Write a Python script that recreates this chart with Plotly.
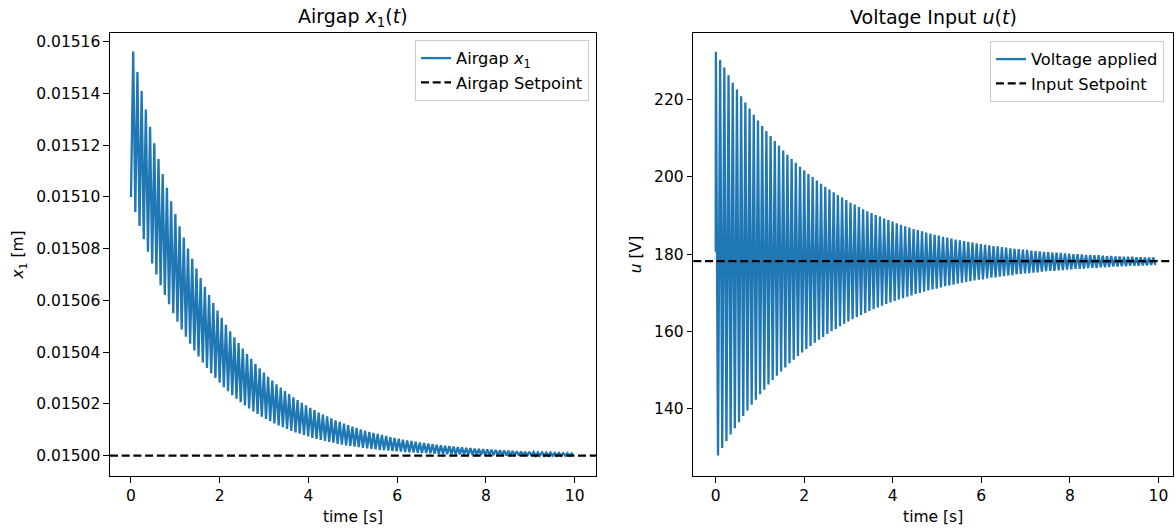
import numpy as np
import plotly.graph_objects as go

# ---------------- data ----------------
period = 0.095            # oscillation period [s]
x1_start = 0.0151000      # airgap at t = 0 [m]
x1_setpoint = 0.0150000   # [m]
u_start = 180.6           # voltage at t = 0 [V]
u_setpoint = 178.2        # [V]

# airgap: successive local maxima / minima [m]
x1_peaks = [
    0.0151562, 0.0151483, 0.0151409, 0.0151338, 0.0151271, 0.0151207, 0.0151147, 0.0151089, 0.0151035, 0.0150983,
    0.0150934, 0.0150887, 0.0150843, 0.0150801, 0.0150761, 0.0150723, 0.0150687, 0.0150653, 0.0150621, 0.0150590,
    0.0150561, 0.0150533, 0.0150506, 0.0150481, 0.0150458, 0.0150435, 0.0150414, 0.0150393, 0.0150374, 0.0150355,
    0.0150338, 0.0150321, 0.0150305, 0.0150290, 0.0150276, 0.0150263, 0.0150250, 0.0150238, 0.0150226, 0.0150215,
    0.0150204, 0.0150195, 0.0150185, 0.0150176, 0.0150167, 0.0150159, 0.0150152, 0.0150144, 0.0150137, 0.0150131,
    0.0150124, 0.0150118, 0.0150112, 0.0150107, 0.0150102, 0.0150097, 0.0150092, 0.0150088, 0.0150084, 0.0150080,
    0.0150076, 0.0150072, 0.0150069, 0.0150066, 0.0150062, 0.0150059, 0.0150057, 0.0150054, 0.0150051, 0.0150049,
    0.0150047, 0.0150044, 0.0150042, 0.0150040, 0.0150038, 0.0150037, 0.0150035, 0.0150033, 0.0150032, 0.0150030,
    0.0150029, 0.0150027, 0.0150026, 0.0150025, 0.0150024, 0.0150023, 0.0150022, 0.0150021, 0.0150020, 0.0150019,
    0.0150018, 0.0150017, 0.0150016, 0.0150015, 0.0150015, 0.0150014, 0.0150013, 0.0150013, 0.0150012, 0.0150012,
    0.0150011, 0.0150011, 0.0150010, 0.0150010, 0.0150009,
]
x1_troughs = [
    0.0150942, 0.0150888, 0.0150837, 0.0150788, 0.0150743, 0.0150700, 0.0150659, 0.0150621, 0.0150585, 0.0150551,
    0.0150518, 0.0150488, 0.0150460, 0.0150433, 0.0150407, 0.0150383, 0.0150360, 0.0150339, 0.0150319, 0.0150300,
    0.0150282, 0.0150265, 0.0150249, 0.0150234, 0.0150220, 0.0150207, 0.0150194, 0.0150183, 0.0150171, 0.0150161,
    0.0150151, 0.0150142, 0.0150133, 0.0150125, 0.0150117, 0.0150110, 0.0150103, 0.0150096, 0.0150090, 0.0150085,
    0.0150079, 0.0150074, 0.0150069, 0.0150065, 0.0150061, 0.0150057, 0.0150053, 0.0150050, 0.0150046, 0.0150043,
    0.0150040, 0.0150038, 0.0150035, 0.0150033, 0.0150030, 0.0150028, 0.0150026, 0.0150025, 0.0150023, 0.0150021,
    0.0150020, 0.0150018, 0.0150017, 0.0150016, 0.0150014, 0.0150013, 0.0150012, 0.0150011, 0.0150010, 0.0150010,
    0.0150009, 0.0150008, 0.0150007, 0.0150007, 0.0150006, 0.0150006, 0.0150005, 0.0150005, 0.0150004, 0.0150004,
    0.0150003, 0.0150003, 0.0150003, 0.0150002, 0.0150002, 0.0150002, 0.0150002, 0.0150001, 0.0150001, 0.0150001,
    0.0150001, 0.0150001, 0.0150001, 0.0150000, 0.0150000, 0.0150000, 0.0150000, 0.0150000, 0.0150000, 0.0150000,
    0.0150000, 0.0150000, 0.0150000, 0.0150000, 0.0150000,
]

# voltage: successive local maxima / minima [V]
u_peaks = [
    232.3, 230.2, 228.2, 226.2, 224.3, 222.5, 220.8, 219.2, 217.6, 216.0,
    214.5, 213.1, 211.8, 210.5, 209.2, 208.0, 206.8, 205.7, 204.6, 203.6,
    202.6, 201.7, 200.7, 199.9, 199.0, 198.2, 197.4, 196.7, 196.0, 195.3,
    194.6, 194.0, 193.3, 192.8, 192.2, 191.6, 191.1, 190.6, 190.1, 189.7,
    189.2, 188.8, 188.4, 188.0, 187.6, 187.2, 186.9, 186.5, 186.2, 185.9,
    185.6, 185.3, 185.0, 184.8, 184.5, 184.3, 184.0, 183.8, 183.6, 183.4,
    183.2, 183.0, 182.8, 182.6, 182.4, 182.3, 182.1, 182.0, 181.8, 181.7,
    181.5, 181.4, 181.3, 181.2, 181.1, 180.9, 180.8, 180.7, 180.6, 180.5,
    180.4, 180.4, 180.3, 180.2, 180.1, 180.0, 180.0, 179.9, 179.8, 179.8,
    179.7, 179.7, 179.6, 179.5, 179.5, 179.4, 179.4, 179.3, 179.3, 179.3,
    179.2, 179.2, 179.1, 179.1, 179.1,
]
u_troughs = [
    128.0, 129.9, 131.7, 133.4, 135.0, 136.6, 138.2, 139.6, 141.1, 142.4,
    143.8, 145.0, 146.3, 147.5, 148.6, 149.7, 150.7, 151.8, 152.7, 153.7,
    154.6, 155.5, 156.3, 157.1, 157.9, 158.6, 159.4, 160.1, 160.7, 161.4,
    162.0, 162.6, 163.2, 163.7, 164.3, 164.8, 165.3, 165.8, 166.2, 166.7,
    167.1, 167.5, 167.9, 168.3, 168.6, 169.0, 169.3, 169.7, 170.0, 170.3,
    170.6, 170.9, 171.1, 171.4, 171.7, 171.9, 172.1, 172.4, 172.6, 172.8,
    173.0, 173.2, 173.4, 173.5, 173.7, 173.9, 174.0, 174.2, 174.3, 174.5,
    174.6, 174.8, 174.9, 175.0, 175.1, 175.2, 175.3, 175.5, 175.6, 175.7,
    175.7, 175.8, 175.9, 176.0, 176.1, 176.2, 176.2, 176.3, 176.4, 176.5,
    176.5, 176.6, 176.6, 176.7, 176.8, 176.8, 176.9, 176.9, 177.0, 177.0,
    177.0, 177.1, 177.1, 177.2, 177.2,
]

x_ticks = [0, 2, 4, 6, 8, 10]
x1_ticks = [0.01500, 0.01502, 0.01504, 0.01506, 0.01508, 0.01510, 0.01512, 0.01514, 0.01516]
u_ticks = [140, 160, 180, 200, 220]


# ---------------- build the time series ----------------
def interleave(start_t, start_v, peak_t0, peaks, troughs):
    n = len(peaks)
    tp = peak_t0 + period * np.arange(n)
    tt = tp + period / 2
    t = np.empty(2 * n)
    v = np.empty(2 * n)
    t[0::2], t[1::2] = tp, tt
    v[0::2], v[1::2] = peaks, troughs
    return np.concatenate([[start_t], t]), np.concatenate([[start_v], v])


t_x1, x1 = interleave(0.0, x1_start, 0.05, x1_peaks, x1_troughs)
t_u, u = interleave(0.0, u_start, 0.005, u_peaks, u_troughs)

# ---------------- figure ----------------
W, H = 1176, 528
BLUE = "#1f77b4"
FONT = "DejaVu Sans"
LW = 2.3
DASH = "8px,3.7px"
FS = 15.5

fig = go.Figure()
fig.add_trace(go.Scatter(
    x=t_x1, y=x1, mode="lines", name="Airgap <i>x</i><sub>1</sub>",
    line=dict(color=BLUE, width=LW), xaxis="x", yaxis="y", legend="legend",
))
fig.add_trace(go.Scatter(
    x=t_u, y=u, mode="lines", name="Voltage applied",
    line=dict(color=BLUE, width=LW), xaxis="x2", yaxis="y2", legend="legend2",
))

fig.add_shape(type="line", xref="x domain", yref="y", x0=0, x1=1,
              y0=x1_setpoint, y1=x1_setpoint, line=dict(color="black", width=LW, dash=DASH),
              showlegend=True, name="Airgap Setpoint", legend="legend")
fig.add_shape(type="line", xref="x2 domain", yref="y2", x0=0, x1=1,
              y0=u_setpoint, y1=u_setpoint, line=dict(color="black", width=LW, dash=DASH),
              showlegend=True, name="Input Setpoint", legend="legend2")

axis_common = dict(
    showline=True, linecolor="black", linewidth=1.1, mirror=True,
    ticks="outside", ticklen=5.5, tickwidth=1.1, tickcolor="black",
    showgrid=False, zeroline=False, automargin=False,
    tickfont=dict(family=FONT, size=FS, color="black"),
)

fig.update_layout(
    width=W, height=H,
    margin=dict(l=0, r=0, t=0, b=0),
    paper_bgcolor="white", plot_bgcolor="white",
    template="none",
    font=dict(family=FONT, size=FS, color="black"),
    xaxis=dict(domain=[110 / W, 596 / W], range=[-0.473, 10.48], tickvals=x_ticks,
               title=dict(text="time [s]", standoff=6, font=dict(family=FONT, size=FS)),
               anchor="y", **axis_common),
    yaxis=dict(domain=[(H - 476) / H, (H - 33) / H], range=[0.01499215, 0.01516336],
               tickvals=x1_ticks, tickformat=".5f",
               title=dict(text="<i>x</i><sub>1</sub> [m]", standoff=8, font=dict(family=FONT, size=FS)),
               anchor="x", **axis_common),
    xaxis2=dict(domain=[693.3 / W, 1173 / W], range=[-0.506, 10.33], tickvals=x_ticks,
                title=dict(text="time [s]", standoff=6, font=dict(family=FONT, size=FS)),
                anchor="y2", **axis_common),
    yaxis2=dict(domain=[(H - 476) / H, (H - 33) / H], range=[122.69, 237.13],
                tickvals=u_ticks,
                title=dict(text="<i>u</i> [V]", standoff=8, font=dict(family=FONT, size=FS)),
                anchor="x2", **axis_common),
    legend=dict(x=589 / W, y=(H - 40) / H, xanchor="right", yanchor="top",
                bgcolor="rgba(255,255,255,0.8)", bordercolor="#cccccc", borderwidth=1,
                font=dict(family=FONT, size=16.3), traceorder="normal"),
    legend2=dict(x=1164 / W, y=(H - 41) / H, xanchor="right", yanchor="top",
                 bgcolor="rgba(255,255,255,0.8)", bordercolor="#cccccc", borderwidth=1,
                 font=dict(family=FONT, size=16.3), traceorder="normal"),
    annotations=[
        dict(text="Airgap <i>x</i><sub>1</sub>(<i>t</i>)", x=(110 + 596) / 2 / W, y=(H - 17) / H,
             xref="paper", yref="paper", showarrow=False, xanchor="center", yanchor="middle",
             font=dict(family=FONT, size=19, color="black")),
        dict(text="Voltage Input <i>u</i>(<i>t</i>)", x=(693.3 + 1173) / 2 / W, y=(H - 17) / H,
             xref="paper", yref="paper", showarrow=False, xanchor="center", yanchor="middle",
             font=dict(family=FONT, size=19, color="black")),
    ],
)

fig.write_html(
    "out.html",
    config={"displayModeBar": False},
    post_script="document.body.style.margin='0';document.body.style.padding='0';",
)
